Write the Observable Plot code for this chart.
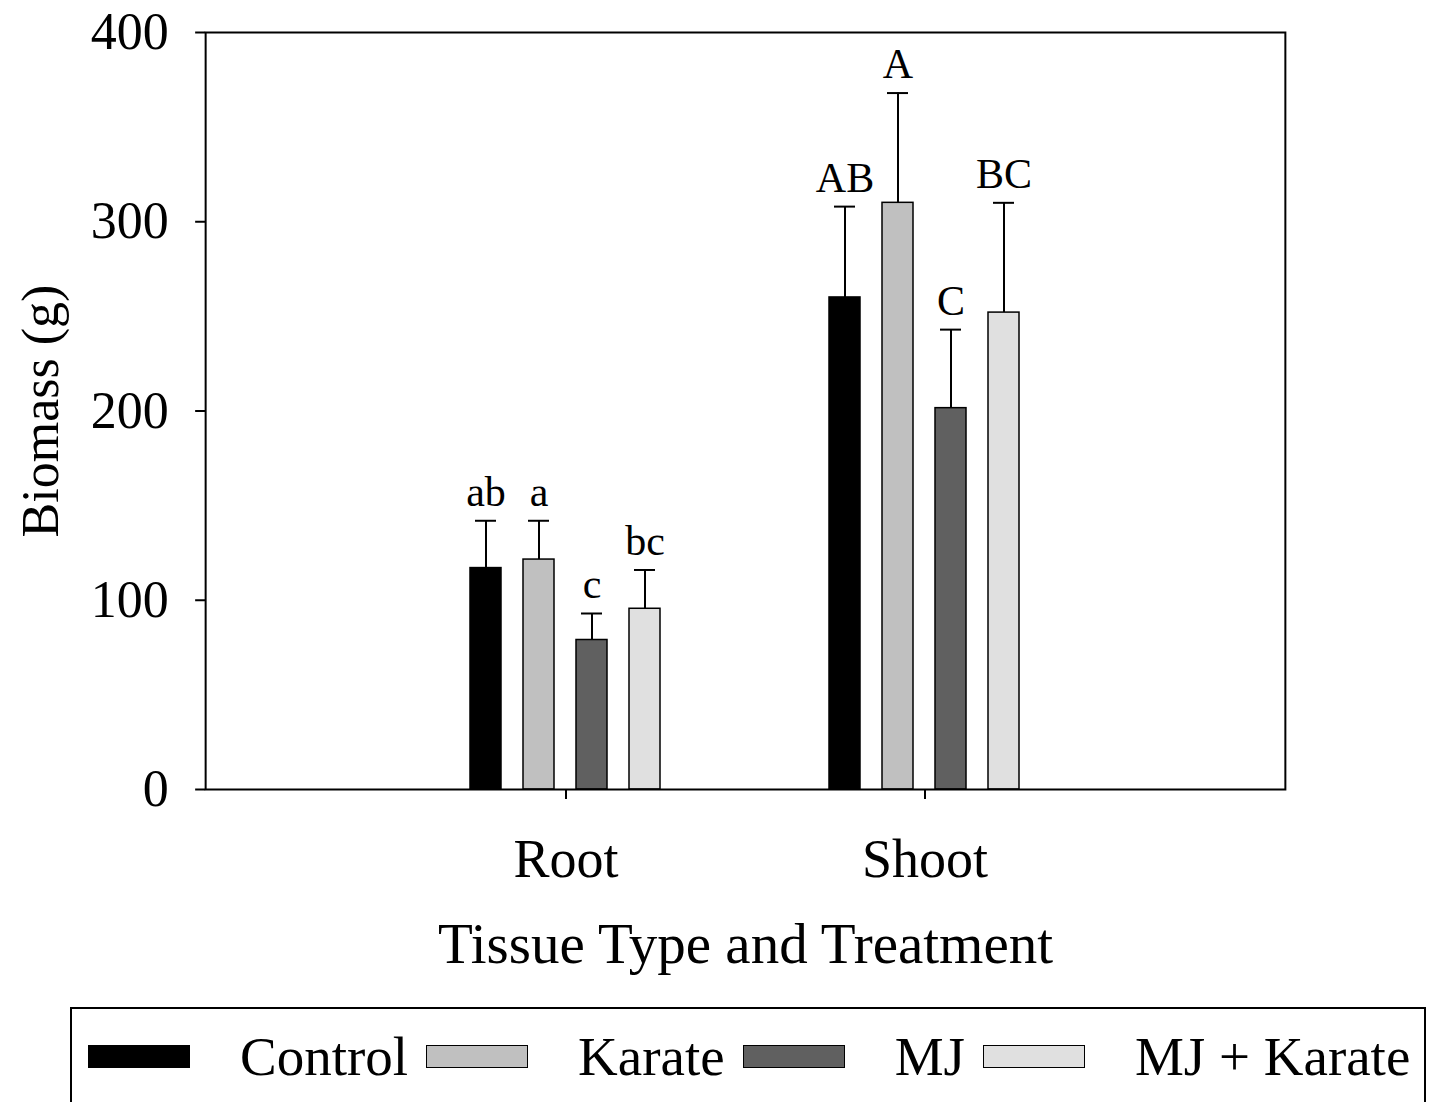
<!DOCTYPE html>
<html>
<head>
<meta charset="utf-8">
<script src="https://cdn.jsdelivr.net/npm/d3@7"></script>
<script src="https://cdn.jsdelivr.net/npm/@observablehq/plot@0.6"></script>
<style>
  html, body { margin: 0; padding: 0; background: #fff; }
  body { width: 1434px; height: 1102px; overflow: hidden; position: relative; font-family: "Liberation Serif", "Times New Roman", serif; }
  #legend { position: absolute; left: 70px; top: 1007px; width: 1356px; height: 130px; border: 2px solid #000; box-sizing: border-box; }
  #legend .row { position: absolute; left: 16px; top: 20px; display: flex; align-items: center; }
  #legend .sw { width: 102px; height: 23px; border: 1.5px solid #000; box-sizing: border-box; }
  #legend .lab { font-size: 55px; line-height: 1; margin-left: 50px; margin-right: 18px; color: #000; white-space: pre; }
</style>
</head>
<body>
<div id="chart"></div>
<div id="legend"><div class="row" id="legrow"></div></div>
<script>
const tissues = ["Root", "Shoot"];
const treatments = ["Control", "Karate", "MJ", "MJ + Karate"];
const rootMeans = [117, 121.5, 79, 95.5];
const rootUpper = [142, 142, 93, 116];
const rootLetters = ["ab", "a", "c", "bc"];
const shootMeans = [260, 310, 201.5, 252];
const shootUpper = [308, 368, 243, 310];
const shootLetters = ["AB", "A", "C", "BC"];
const colors = ["#000000", "#c0c0c0", "#606060", "#e0e0e0"];
const yTicks = [0, 100, 200, 300, 400];

const data = [];
treatments.forEach((t, i) => data.push({tissue: "Root", treatment: t, mean: rootMeans[i], upper: rootUpper[i], letter: rootLetters[i]}));
treatments.forEach((t, i) => data.push({tissue: "Shoot", treatment: t, mean: shootMeans[i], upper: shootUpper[i], letter: shootLetters[i]}));

const serif = "'Liberation Serif', 'Times New Roman', serif";
const W = 1434, H = 1000, mT = 32, mB = 211, mL = 205, mR = 149;
const fxOpts = {paddingInner: 0.2, paddingOuter: 0.604};
// facets are narrower than the plot area; compute how far the frame/axis must reach outward
const fxBand = d3.scaleBand().domain(tissues).range([mL, W - mR]).paddingInner(fxOpts.paddingInner).paddingOuter(fxOpts.paddingOuter);
const leftShift = mL - fxBand(tissues[0]);                                        // negative
const rightShift = (fxBand(tissues[tissues.length - 1]) + fxBand.bandwidth()) - (W - mR); // negative

const chart = Plot.plot({
  width: W,
  height: H,
  marginTop: mT,
  marginBottom: mB,
  marginLeft: mL,
  marginRight: mR,
  style: {fontFamily: serif, background: "#fff", color: "#000"},
  fx: {domain: tissues, ...fxOpts},
  x: {domain: treatments, axis: null, paddingInner: 0.407, paddingOuter: 0.863},
  y: {domain: [0, 400]},
  color: {domain: treatments, range: colors},
  marks: [
    Plot.barY(data, {fx: "tissue", x: "treatment", y: "mean", fill: "treatment", stroke: "#000", strokeWidth: 1.5}),
    Plot.ruleX(data, {fx: "tissue", x: "treatment", y1: "mean", y2: "upper", stroke: "#000", strokeWidth: 2}),
    Plot.tickY(data, {fx: "tissue", x: "treatment", y: "upper", stroke: "#000", strokeWidth: 2, insetLeft: 5, insetRight: 5}),
    Plot.text(data, {fx: "tissue", x: "treatment", y: "upper", text: "letter", dy: -15, lineAnchor: "bottom", fontSize: 42, fill: "#000"}),
    Plot.axisY({ticks: yTicks, tickSize: 10, tickPadding: 27, fontSize: 52, strokeWidth: 2, dx: leftShift,
      label: "Biomass (g)", labelAnchor: "center", labelArrow: "none", labelOffset: 185 - leftShift}),
    Plot.axisFx({anchor: "bottom", tickSize: 10, tickPadding: 39, fontSize: 54, strokeWidth: 2,
      label: null}),
    Plot.text(["Tissue Type and Treatment"], {facet: "super", frameAnchor: "bottom", dy: 173, lineAnchor: "bottom", fontSize: 57, fill: "#000"}),
    Plot.frame({facet: "super", stroke: "#000", strokeWidth: 2, insetLeft: leftShift, insetRight: rightShift})
  ]
});
document.getElementById("chart").appendChild(chart);

const row = document.getElementById("legrow");
treatments.forEach((t, i) => {
  const sw = document.createElement("div");
  sw.className = "sw";
  sw.style.background = colors[i];
  const lab = document.createElement("div");
  lab.className = "lab";
  lab.textContent = t;
  row.appendChild(sw);
  row.appendChild(lab);
});
</script>
</body>
</html>
